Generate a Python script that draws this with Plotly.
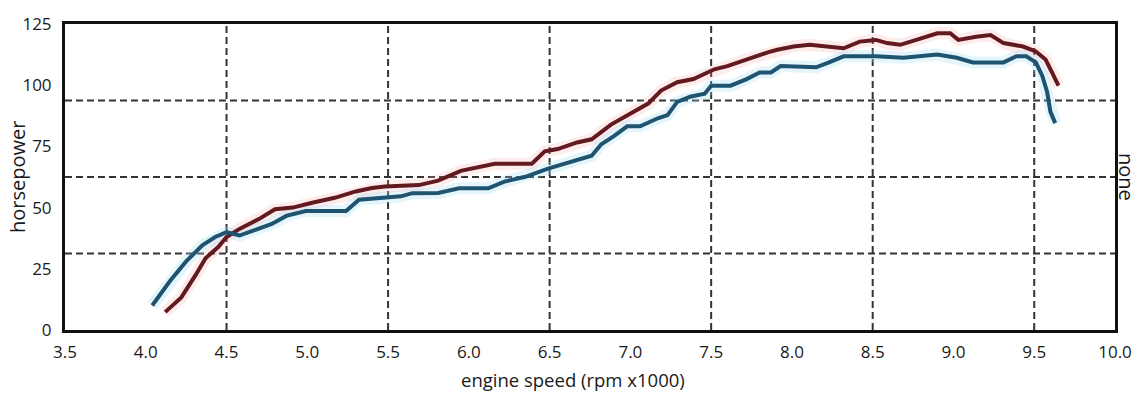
import plotly.graph_objects as go

# Dyno runs: engine speed (rpm x1000) vs horsepower
rpm_red = [4.12, 4.22, 4.31, 4.37, 4.45, 4.50, 4.58, 4.70, 4.80, 4.91, 5.03, 5.17,
           5.30, 5.40, 5.48, 5.69, 5.81, 5.95, 6.16, 6.39, 6.47, 6.55, 6.67, 6.76,
           6.88, 7.00, 7.11, 7.19, 7.29, 7.39, 7.52, 7.60, 7.72, 7.85, 7.91, 8.01,
           8.11, 8.32, 8.42, 8.52, 8.59, 8.67, 8.77, 8.90, 8.98, 9.03, 9.14, 9.23,
           9.31, 9.43, 9.51, 9.57, 9.61, 9.65]
hp_red = [7.3, 13.3, 22.6, 29.3, 34.0, 38.0, 41.3, 45.3, 49.3, 50.0, 52.0, 54.0,
          56.6, 58.0, 58.6, 59.2, 61.0, 65.0, 67.9, 67.9, 73.0, 73.9, 76.6, 77.9,
          83.9, 88.5, 92.5, 97.8, 101.2, 102.5, 106.5, 107.8, 110.6, 113.4, 114.5, 115.8,
          116.5, 115.1, 117.8, 118.5, 117.2, 116.5, 118.5, 121.2, 121.2, 118.5, 119.8, 120.5,
          117.2, 115.8, 113.8, 110.5, 105.2, 99.8]

rpm_blue = [4.04, 4.15, 4.25, 4.35, 4.43, 4.50, 4.58, 4.70, 4.78, 4.87, 4.99, 5.11,
            5.24, 5.32, 5.48, 5.58, 5.65, 5.81, 5.94, 6.12, 6.22, 6.35, 6.49, 6.63,
            6.76, 6.82, 6.90, 6.98, 7.06, 7.17, 7.23, 7.29, 7.37, 7.46, 7.50, 7.62,
            7.72, 7.80, 7.87, 7.93, 8.07, 8.15, 8.23, 8.32, 8.52, 8.69, 8.90, 9.02,
            9.12, 9.31, 9.39, 9.45, 9.51, 9.55, 9.58, 9.60, 9.63]
hp_blue = [10.0, 20.0, 28.0, 34.6, 38.0, 40.0, 38.6, 41.3, 43.3, 46.6, 48.6, 48.6,
           48.6, 53.2, 53.9, 54.6, 55.9, 56.0, 57.9, 57.9, 60.6, 62.6, 65.9, 68.6,
           71.2, 75.9, 79.3, 83.2, 83.2, 86.5, 87.8, 93.2, 95.3, 96.5, 99.8, 99.8,
           102.5, 105.2, 105.2, 107.8, 107.5, 107.3, 109.3, 111.8, 111.8, 111.2, 112.5, 111.2,
           109.3, 109.3, 111.8, 111.8, 109.3, 103.8, 97.2, 89.2, 84.5]

x_ticks = [3.5, 4.0, 4.5, 5.0, 5.5, 6.0, 6.5, 7.0, 7.5, 8.0, 8.5, 9.0, 9.5, 10.0]
x_tick_text = ["3.5", "4.0", "4.5", "5.0", "5.5", "6.0", "6.5", "7.0", "7.5",
               "8.0", "8.5", "9.0", "9.5", "10.0"]
y_ticks = [0, 25, 50, 75, 100, 125]

grid_rpm = [4.5, 5.5, 6.5, 7.5, 8.5, 9.5]
grid_hp = [31.25, 62.5, 93.75]

RED = "#621a20"
BLUE = "#1f5470"
FONT = "Open Sans"
TEXT = "#1a1a1a"

fig = go.Figure()

# soft halo under each curve
fig.add_trace(go.Scatter(x=rpm_red, y=hp_red, mode="lines",
                         line=dict(color="rgba(250,170,170,0.22)", width=12),
                         hoverinfo="skip", showlegend=False))
fig.add_trace(go.Scatter(x=rpm_blue, y=hp_blue, mode="lines",
                         line=dict(color="rgba(160,220,245,0.28)", width=12),
                         hoverinfo="skip", showlegend=False))

fig.add_trace(go.Scatter(x=rpm_red, y=hp_red, mode="lines", name="tuned",
                         line=dict(color=RED, width=4), showlegend=False))
fig.add_trace(go.Scatter(x=rpm_blue, y=hp_blue, mode="lines", name="stock",
                         line=dict(color=BLUE, width=4), showlegend=False))

grid_style = dict(color="#333333", width=2, dash="7px,4px")
for gx in grid_rpm:
    fig.add_shape(type="line", x0=gx, x1=gx, y0=0, y1=125, xref="x", yref="y",
                  line=grid_style, layer="below")
for gy in grid_hp:
    fig.add_shape(type="line", x0=3.5, x1=10.0, y0=gy, y1=gy, xref="x", yref="y",
                  line=grid_style, layer="below")

fig.update_xaxes(range=[3.5, 10.0], tickvals=x_ticks, ticktext=x_tick_text,
                 showgrid=False, zeroline=False, showline=True, mirror=True,
                 linecolor="#111111", linewidth=3, ticks="",
                 ticklabelstandoff=5,
                 tickfont=dict(family=FONT, size=17, color=TEXT))
fig.update_yaxes(range=[0, 125], tickvals=y_ticks,
                 showgrid=False, zeroline=False, showline=True, mirror=True,
                 linecolor="#111111", linewidth=3, ticks="",
                 ticklabelstandoff=7,
                 tickfont=dict(family=FONT, size=17, color=TEXT))

fig.add_annotation(text="engine speed (rpm x1000)", xref="paper", yref="paper",
                   x=0.484, y=0, xanchor="center", yanchor="top", yshift=-35,
                   showarrow=False, font=dict(family=FONT, size=18.5, color=TEXT))
fig.add_annotation(text="horsepower", xref="paper", yref="paper",
                   x=0, y=0.5, xanchor="center", yanchor="middle", xshift=-48,
                   textangle=-90, showarrow=False,
                   font=dict(family=FONT, size=20, color=TEXT))
fig.add_annotation(text="none", xref="paper", yref="paper",
                   x=1, y=0.5, xanchor="center", yanchor="middle", xshift=12,
                   textangle=90, showarrow=False,
                   font=dict(family=FONT, size=20, color=TEXT))

fig.update_layout(width=1144, height=395,
                  margin=dict(l=65, r=25, t=17, b=65),
                  paper_bgcolor="white", plot_bgcolor="white",
                  showlegend=False)

fig.write_html("out.html")
